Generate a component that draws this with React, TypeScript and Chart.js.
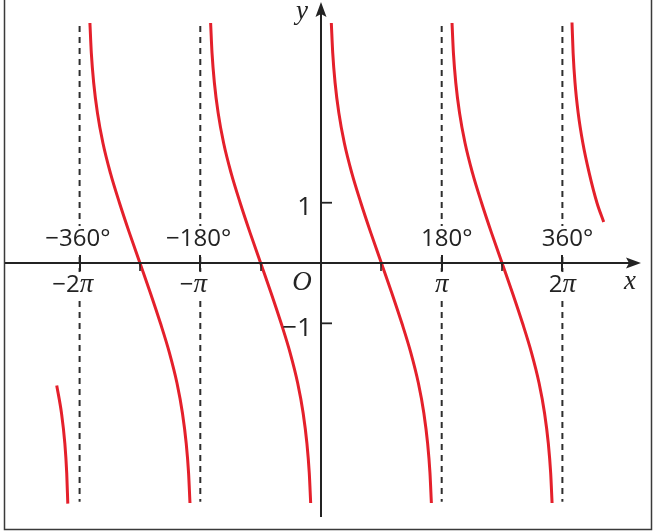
import React, { useEffect, useRef } from "react";
import { Chart, registerables } from "chart.js";

Chart.register(...registerables);

// Horizontal axis in degrees, vertical axis in plain units
const X_RANGE = [-478.7, 496.6];
const Y_RANGE = [-4.444, 4.362];

// Branches of y = cot x (x in degrees)
const branchAX = [-344.6, -342.5, -339.0, -333.4, -325.2, -314.0, -300.6, -285.7, -270, -254.3, -239.4, -226.0, -214.8, -206.6, -201.0, -197.5, -195.4];
const branchBX = [-164.6, -162.5, -159.0, -153.4, -145.2, -134.0, -120.6, -105.7, -90, -74.3, -59.4, -46.0, -34.8, -26.6, -21.0, -17.5, -15.4];
const branchCX = [15.4, 17.5, 21.0, 26.6, 34.8, 46.0, 59.4, 74.3, 90, 105.7, 120.6, 134.0, 145.2, 153.4, 159.0, 162.5, 164.6];
const branchDX = [195.4, 197.5, 201.0, 206.6, 214.8, 226.0, 239.4, 254.3, 270, 285.7, 300.6, 314.0, 325.2, 333.4, 339.0, 342.5, 344.6];
const branchFullY = [3.98, 3.48, 2.99, 2.49, 1.99, 1.49, 1.0, 0.5, 0, -0.5, -1.0, -1.49, -1.99, -2.49, -2.99, -3.48, -3.98];

const branchLeftX = [-394.1, -387.0, -382.0, -379.2, -377.6];
const branchLeftY = [-2.03, -2.49, -2.99, -3.48, -3.99];
const branchRightX = [374.3, 376.0, 378.8, 383.5, 390.5, 400.0, 411.5, 421.6];
const branchRightY = [3.99, 3.48, 2.99, 2.49, 1.99, 1.49, 1.0, 0.68];

// Asymptotes (dashed) and their vertical extent
const asymptoteX = [-360, -180, 180, 360];
const asymptoteY = [3.93, -3.96];

// Axis ticks and labels
const majorTicks = [-360, -180, 180, 360];
const degreeLabels = ["−360°", "−180°", "180°", "360°"];
const radianLabels = ["−2π", "−π", "π", "2π"];
const minorTicks = [-270, -90, 90, 270];
const yTicks = [1, -1];
const yTickLabels = ["1", "−1"];

const RED = "#e4202b";
const INK = "#232323";
const SANS = "'Open Sans', 'DejaVu Sans', sans-serif";
const SERIF_IT = "italic 27px 'Liberation Serif', 'DejaVu Serif', serif";

function zip(xs: number[], ys: number[]) {
  return xs.map((x, i) => ({ x, y: ys[i] }));
}

type Run = { text: string; font: string; core: boolean };

function splitLabel(label: string, size: number): Run[] {
  const runs: Run[] = [];
  let rest = label;
  if (rest.startsWith("−")) {
    runs.push({ text: "−", font: `${size}px ${SANS}`, core: false });
    rest = rest.slice(1);
  }
  let suffix = "";
  if (rest.endsWith("°")) {
    suffix = "°";
    rest = rest.slice(0, -1);
  }
  for (const ch of rest) {
    if (ch === "π") runs.push({ text: ch, font: SERIF_IT, core: true });
    else runs.push({ text: ch, font: `${size}px ${SANS}`, core: true });
  }
  if (suffix) runs.push({ text: suffix, font: `${size}px ${SANS}`, core: false });
  return runs;
}

function drawRuns(ctx: CanvasRenderingContext2D, runs: Run[], cx: number, cy: number, bg: boolean) {
  const widths = runs.map((r) => {
    ctx.font = r.font;
    return ctx.measureText(r.text).width;
  });
  const total = widths.reduce((a, b) => a + b, 0);
  let coreStart = 0;
  let coreW = 0;
  let acc = 0;
  let seen = false;
  runs.forEach((r, i) => {
    if (r.core) {
      if (!seen) {
        coreStart = acc;
        seen = true;
      }
      coreW += widths[i];
    }
    acc += widths[i];
  });
  const left = cx - (coreStart + coreW / 2);
  if (bg) {
    ctx.fillStyle = "#ffffff";
    ctx.fillRect(left - 2, cy - 13, total + 4, 26);
  }
  ctx.fillStyle = INK;
  ctx.textBaseline = "middle";
  ctx.textAlign = "left";
  let x = left;
  runs.forEach((r, i) => {
    ctx.font = r.font;
    ctx.fillText(r.text, x, cy);
    x += widths[i];
  });
}

const overlay = {
  id: "cotOverlay",
  afterDatasetsDraw(chart: any) {
    const ctx: CanvasRenderingContext2D = chart.ctx;
    const xs = chart.scales.x;
    const ys = chart.scales.y;
    const X0 = xs.getPixelForValue(0);
    const Y0 = ys.getPixelForValue(0);
    const W = chart.width;
    const H = chart.height;
    ctx.save();

    // frame (left, right, bottom)
    ctx.strokeStyle = "#3a3a3a";
    ctx.lineWidth = 1.5;
    ctx.beginPath();
    ctx.moveTo(4.5, 0);
    ctx.lineTo(4.5, H - 1.5);
    ctx.lineTo(W - 2.5, H - 1.5);
    ctx.lineTo(W - 2.5, 0);
    ctx.stroke();

    // labels over dashed asymptotes (white boxes)
    majorTicks.forEach((v, i) => {
      const px = xs.getPixelForValue(v);
      drawRuns(ctx, splitLabel(degreeLabels[i], 24), px, Y0 - 24, true);
      drawRuns(ctx, splitLabel(radianLabels[i], 24), px, Y0 + 22, true);
    });

    // axes
    ctx.strokeStyle = INK;
    ctx.fillStyle = INK;
    ctx.lineWidth = 2;
    ctx.beginPath();
    ctx.moveTo(5, Y0);
    ctx.lineTo(W - 20, Y0);
    ctx.stroke();
    ctx.beginPath();
    ctx.moveTo(W - 13, Y0);
    ctx.lineTo(W - 28, Y0 - 5.5);
    ctx.lineTo(W - 25, Y0);
    ctx.lineTo(W - 28, Y0 + 5.5);
    ctx.closePath();
    ctx.fill();

    ctx.beginPath();
    ctx.moveTo(X0, H - 14);
    ctx.lineTo(X0, 12);
    ctx.stroke();
    ctx.beginPath();
    ctx.moveTo(X0, 2);
    ctx.lineTo(X0 - 5.5, 17);
    ctx.lineTo(X0, 14);
    ctx.lineTo(X0 + 5.5, 17);
    ctx.closePath();
    ctx.fill();

    // ticks
    majorTicks.forEach((v) => {
      const px = Math.round(xs.getPixelForValue(v));
      ctx.beginPath();
      ctx.moveTo(px, Y0 - 8);
      ctx.lineTo(px, Y0 + 8);
      ctx.stroke();
    });
    ctx.lineWidth = 1.6;
    minorTicks.forEach((v) => {
      const px = Math.round(xs.getPixelForValue(v));
      ctx.beginPath();
      ctx.moveTo(px, Y0);
      ctx.lineTo(px, Y0 + 8);
      ctx.stroke();
    });
    ctx.lineWidth = 1.8;
    yTicks.forEach((v, i) => {
      const py = ys.getPixelForValue(v);
      ctx.beginPath();
      ctx.moveTo(X0, py);
      ctx.lineTo(X0 + 11, py);
      ctx.stroke();
      ctx.font = `26px ${SANS}`;
      ctx.textAlign = "right";
      ctx.textBaseline = "middle";
      ctx.fillText(yTickLabels[i], X0 - 9, py + 5);
    });

    // axis names and origin
    ctx.font = SERIF_IT;
    ctx.textAlign = "center";
    ctx.textBaseline = "middle";
    ctx.fillText("y", X0 - 19, 12);
    ctx.fillText("O", X0 - 19, Y0 + 20);
    ctx.fillText("x", W - 24, Y0 + 19);
    ctx.restore();
  },
};

export default function App() {
  const ref = useRef<HTMLCanvasElement | null>(null);
  useEffect(() => {
    if (!ref.current) return;
    const curve = (data: { x: number; y: number }[]) => ({
      data,
      borderColor: RED,
      borderWidth: 3,
      pointRadius: 0,
      cubicInterpolationMode: "monotone" as const,
      fill: false,
    });
    const dashed = asymptoteX.map((x) => ({
      data: asymptoteY.map((y) => ({ x, y })),
      borderColor: "#2e2e2e",
      borderWidth: 2,
      borderDash: [6, 5],
      pointRadius: 0,
      fill: false,
    }));
    const chart = new Chart(ref.current, {
      type: "line",
      data: {
        datasets: [
          ...dashed,
          curve(zip(branchLeftX, branchLeftY)),
          curve(zip(branchAX, branchFullY)),
          curve(zip(branchBX, branchFullY)),
          curve(zip(branchCX, branchFullY)),
          curve(zip(branchDX, branchFullY)),
          curve(zip(branchRightX, branchRightY)),
        ],
      },
      options: {
        animation: false,
        responsive: false,
        devicePixelRatio: 1,
        layout: { padding: 0 },
        plugins: { legend: { display: false }, tooltip: { enabled: false } },
        events: [],
        scales: {
          x: { type: "linear", min: X_RANGE[0], max: X_RANGE[1], display: false },
          y: { type: "linear", min: Y_RANGE[0], max: Y_RANGE[1], display: false },
        },
      },
      plugins: [overlay],
    });
    return () => chart.destroy();
  }, []);
  return (
    <div style={{ position: "fixed", left: 0, top: 0, width: 654, height: 531, background: "#fff" }}>
      <canvas ref={ref} width={654} height={531} />
    </div>
  );
}
